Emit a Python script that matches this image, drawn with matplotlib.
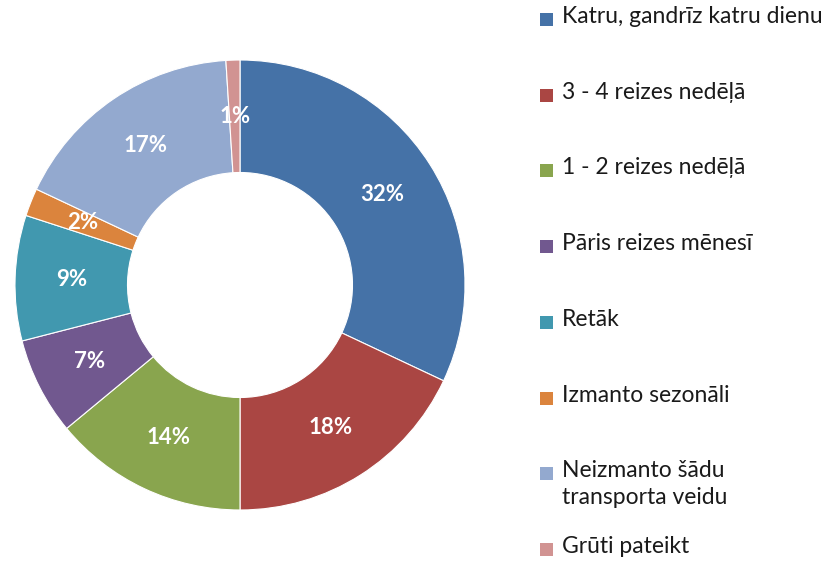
import matplotlib
matplotlib.use('Agg')
from matplotlib import pyplot as plt
from matplotlib.patches import Rectangle

labels = ['Katru, gandrīz katru dienu', '3 - 4 reizes nedēļā', '1 - 2 reizes nedēļā',
          'Pāris reizes mēnesī', 'Retāk', 'Izmanto sezonāli',
          'Neizmanto šādu\ntransporta veidu', 'Grūti pateikt']
values = [32, 18, 14, 7, 9, 2, 17, 1]
colors = ['#4572A7', '#AA4643', '#89A54E', '#71588F', '#4198AF', '#DB843D', '#93A9CF', '#D19392']

plt.rcParams['font.family'] = ['Lato', 'DejaVu Sans']

W, H = 832, 563
fig = plt.figure(figsize=(W / 100, H / 100), dpi=100)

# donut, centre (240, 285) px, outer radius 225 px
cx, cy, r = 240, 285, 225
ax = fig.add_axes([(cx - r) / W, (H - cy - r) / H, 2 * r / W, 2 * r / H])
wedges, texts, autotexts = ax.pie(values, colors=colors, startangle=90, counterclock=False,
                                  radius=1, autopct='%d%%', pctdistance=0.75,
                                  wedgeprops=dict(width=0.5, edgecolor='white', linewidth=0.8),
                                  textprops=dict(color='white', fontsize=16, fontweight='bold'))
ax.set_xlim(-1, 1)
ax.set_ylim(-1, 1)
ax.axis('off')

# legend drawn by hand so the rows sit like in the original
top, step = 19, (549 - 19) / 7
for i, (lab, col) in enumerate(zip(labels, colors)):
    y = top + i * step
    fig.patches.append(Rectangle((540 / W, 1 - (y + 7) / H), 13 / W, 13 / H,
                                 transform=fig.transFigure, facecolor=col, edgecolor='none'))
    fig.text(562 / W, 1 - (y - 13) / H, lab, fontsize=16.5, color='#1a1a1a',
             va='top', ha='left', linespacing=1.32)

fig.savefig('out.png', dpi=100)
